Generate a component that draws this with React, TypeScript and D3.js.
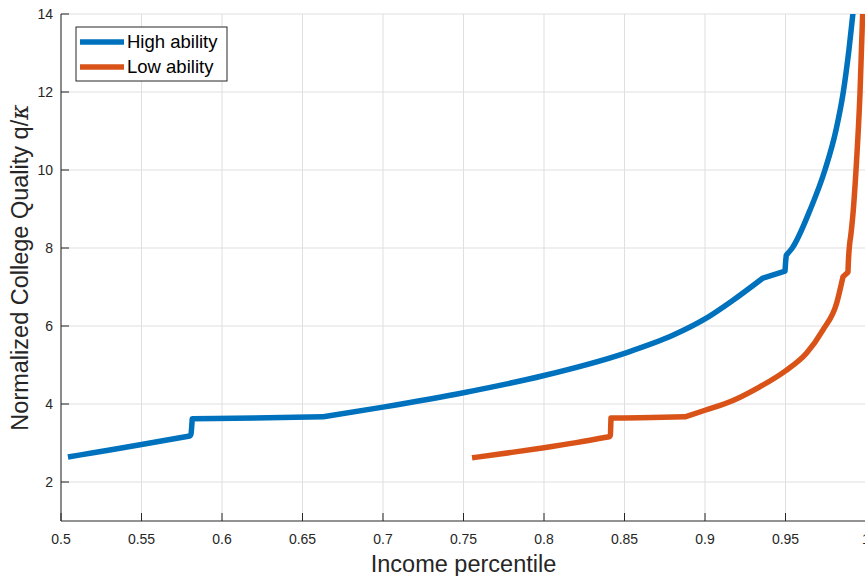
import React from "react";
import * as d3 from "d3";

const highX = [0.5043, 0.52, 0.55, 0.58, 0.5807, 0.5815, 0.62, 0.6627, 0.7, 0.75, 0.8, 0.85, 0.88, 0.9, 0.9174, 0.936, 0.9497, 0.95, 0.9505, 0.9542, 0.9652, 0.9745, 0.9814, 0.9859, 0.9894, 0.9921, 0.994];
const highQ = [2.64, 2.75, 2.96, 3.18, 3.22, 3.62, 3.64, 3.67, 3.92, 4.29, 4.73, 5.3, 5.76, 6.18, 6.66, 7.23, 7.41, 7.6, 7.82, 8.0, 8.97, 10.0, 11.03, 12.0, 13.08, 14.1, 14.8];
// indices where the curve has a kink or a jump
const highBreaks = [3, 5, 7, 15, 16, 18];

const lowX = [0.7553, 0.78, 0.8, 0.82, 0.8405, 0.8412, 0.8416, 0.86, 0.8876, 0.9, 0.9174, 0.934, 0.95, 0.963, 0.9733, 0.9818, 0.9857, 0.9888, 0.989, 0.9905, 0.9921, 0.9938, 0.9963, 0.998, 0.999];
const lowQ = [2.62, 2.76, 2.88, 3.01, 3.16, 3.2, 3.64, 3.65, 3.67, 3.84, 4.09, 4.44, 4.85, 5.3, 5.9, 6.59, 7.26, 7.38, 7.6, 8.3, 8.97, 10.0, 12.0, 14.1, 15.0];
const lowBreaks = [4, 6, 8, 16, 17, 19];

const xTicks = [0.5, 0.55, 0.6, 0.65, 0.7, 0.75, 0.8, 0.85, 0.9, 0.95, 1];
const yTicks = [2, 4, 6, 8, 10, 12, 14];

const seriesNames = ["High ability", "Low ability"];
const seriesColors = ["#0072BD", "#D95319"];

export default function App() {
  const W = 865, H = 576;
  const left = 61, right = 866, top = 14, bottom = 521;
  const x = d3.scaleLinear().domain([0.5, 1]).range([left, right]);
  const y = d3.scaleLinear().domain([1, 14]).range([bottom, top]);
  const line = d3
    .line<[number, number]>()
    .x(d => x(d[0]))
    .y(d => y(d[1]))
    .curve(d3.curveMonotoneX);
  const segPath = (xs: number[], qs: number[], breaks: number[]) => {
    const pts: [number, number][] = xs.map((v, i) => [v, qs[i]]);
    const idx = [0, ...breaks, pts.length - 1];
    let d = "";
    for (let k = 0; k < idx.length - 1; k++) {
      const s = line(pts.slice(idx[k], idx[k + 1] + 1)) || "";
      d += k === 0 ? s : "L" + s.slice(1);
    }
    return d;
  };
  const font = "'Liberation Sans', Arial, Helvetica, sans-serif";
  const axisColor = "#262626";
  const grid = "#dfdfdf";
  const fmt = (v: number) => (v === 1 ? "1" : String(v));

  return (
    <div style={{ position: "fixed", left: 0, top: 0, width: W, height: H, background: "#fff" }}>
      <svg width={W} height={H} style={{ display: "block", fontFamily: font }}>
        <defs>
          <clipPath id="plotclip">
            <rect x={left} y={top} width={right - left} height={bottom - top} />
          </clipPath>
        </defs>
        {xTicks.map(t => (
          <line key={"gx" + t} x1={x(t)} x2={x(t)} y1={top} y2={bottom} stroke={grid} strokeWidth={1} />
        ))}
        {yTicks.map(t => (
          <line key={"gy" + t} x1={left} x2={right} y1={y(t)} y2={y(t)} stroke={grid} strokeWidth={1} />
        ))}
        <g clipPath="url(#plotclip)">
          <path d={segPath(highX, highQ, highBreaks)} fill="none" stroke={seriesColors[0]} strokeWidth={5.5} strokeLinejoin="round" />
          <path d={segPath(lowX, lowQ, lowBreaks)} fill="none" stroke={seriesColors[1]} strokeWidth={5.5} strokeLinejoin="round" />
        </g>
        <line x1={left} x2={right} y1={bottom} y2={bottom} stroke={axisColor} strokeWidth={1} />
        <line x1={left} x2={left} y1={top} y2={bottom} stroke={axisColor} strokeWidth={1} />
        {xTicks.map(t => (
          <g key={"tx" + t}>
            <line x1={x(t)} x2={x(t)} y1={bottom} y2={bottom - 8} stroke={axisColor} strokeWidth={1} />
            <text x={x(t)} y={544} textAnchor="middle" fontSize={14} fill={axisColor}>{fmt(t)}</text>
          </g>
        ))}
        {yTicks.map(t => (
          <g key={"ty" + t}>
            <line x1={left} x2={left + 8} y1={y(t)} y2={y(t)} stroke={axisColor} strokeWidth={1} />
            <text x={53} y={y(t) + 5} textAnchor="end" fontSize={14} fill={axisColor}>{t}</text>
          </g>
        ))}
        <text x={(left + right) / 2} y={572} textAnchor="middle" fontSize={23.5} fill={axisColor}>Income percentile</text>
        <text transform={`translate(28, ${(top + bottom) / 2}) rotate(-90)`} textAnchor="middle" fontSize={23.5} fill={axisColor}>
          Normalized College Quality q/<tspan fontStyle="italic" fontFamily="'DejaVu Serif', serif">κ</tspan>
        </text>
        <rect x={76} y={27} width={151} height={54} fill="#fff" stroke={axisColor} strokeWidth={1} />
        {seriesNames.map((n, i) => (
          <g key={n}>
            <line x1={80} x2={124} y1={42 + i * 25} y2={42 + i * 25} stroke={seriesColors[i]} strokeWidth={5.5} />
            <text x={127} y={48 + i * 25} fontSize={18.5} fill="#000">{n}</text>
          </g>
        ))}
      </svg>
    </div>
  );
}
